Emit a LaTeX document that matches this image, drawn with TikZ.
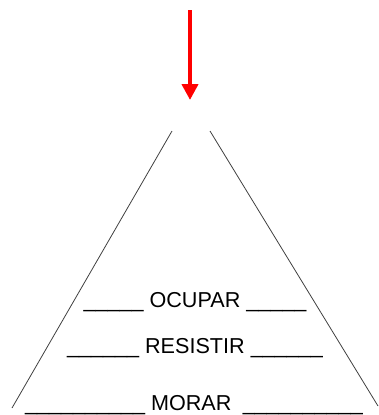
\documentclass[tikz,border=0pt]{standalone}
\usepackage{fontspec}
\setmainfont{Liberation Sans}
\usetikzlibrary{arrows.meta}

\begin{document}
\begin{tikzpicture}[x=0.75pt, y=-0.75pt, line width=0.6pt,
  fila/.style={anchor=base, font=\fontsize{16.2}{19}\selectfont, inner sep=0pt}]
  \useasboundingbox (0,0) rectangle (379,415);
  % flecha
  \coordinate (ini) at (190,10);
  \coordinate (fin) at (190,100);
  \draw[-{Triangle[length=12pt, width=12pt]}, red, line width=3pt] (ini) -- (fin);
  % lados
  \draw[black!75] (172,131) -- (12,408);
  \draw[black!75] (210,131) -- (378,406);
  % filas
  \node[fila] (ocupar) at (195,307) {\_\_\_\_\_ OCUPAR \_\_\_\_\_};
  \node[fila] (resistir) at (195,353) {\_\_\_\_\_\_ RESISTIR \_\_\_\_\_\_};
  \node[fila] (morar) at (194,410) {\_\_\_\_\_\_\_\_\_\_ MORAR \hspace{4pt}\_\_\_\_\_\_\_\_\_\_};
\end{tikzpicture}
\end{document}
